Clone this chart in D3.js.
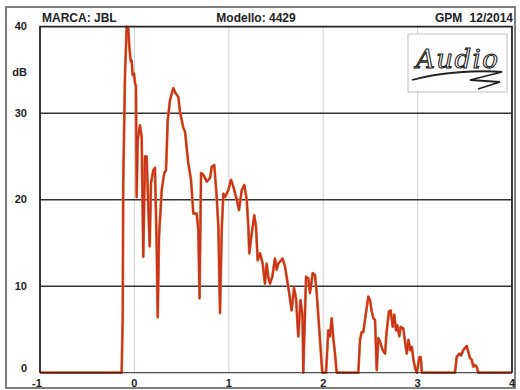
<!DOCTYPE html>
<html>
<head>
<meta charset="utf-8">
<script src="https://cdn.jsdelivr.net/npm/d3@7"></script>
<style>
  body { margin: 0; background: #fff; }
  svg { display: block; font-family: "Liberation Sans", Arial, sans-serif; }
</style>
</head>
<body>
<script>
// frequency-ish axis (-1 .. 4) and level in dB
const xVals = [-1, -0.135, -0.124, -0.118, -0.10, -0.082, -0.065, -0.054, -0.039, -0.029, -0.018, -0.004, 0.006, 0.017,
  0.024, 0.035, 0.059, 0.077, 0.094, 0.112, 0.130, 0.147, 0.162, 0.176, 0.200, 0.218, 0.236, 0.247, 0.261, 0.289,
  0.317, 0.335, 0.353, 0.377, 0.412, 0.437, 0.465, 0.483, 0.518, 0.536, 0.571, 0.600, 0.624, 0.660, 0.677, 0.690,
  0.706, 0.730, 0.766, 0.801, 0.819, 0.846, 0.861, 0.872, 0.889, 0.907, 0.925, 0.942, 0.960, 0.995, 1.023, 1.048,
  1.084, 1.108, 1.137, 1.164, 1.190, 1.207, 1.217, 1.243, 1.270, 1.288, 1.306, 1.331, 1.359, 1.383, 1.401, 1.418,
  1.436, 1.461, 1.489, 1.507, 1.524, 1.569, 1.595, 1.630, 1.666, 1.691, 1.712, 1.736, 1.760, 1.781, 1.789, 1.818,
  1.842, 1.860, 1.889, 1.913, 1.931, 1.950, 1.971, 1.990, 2.030, 2.043, 2.054, 2.072, 2.090, 2.107, 2.125, 2.143,
  2.372, 2.390, 2.408, 2.425, 2.453, 2.478, 2.496, 2.514, 2.531, 2.549, 2.567, 2.584, 2.602, 2.630, 2.655, 2.673,
  2.697, 2.715, 2.736, 2.753, 2.771, 2.785, 2.806, 2.821, 2.849, 2.867, 2.885, 2.903, 2.921, 2.939, 2.956, 2.974,
  2.992, 3.019, 3.034, 3.045, 3.396, 3.414, 3.439, 3.460, 3.484, 3.520, 3.537, 3.555, 3.573, 3.590, 3.608, 3.626,
  3.643, 4];
const dbVals = [0, 0, 6.1, 21.9, 34.2, 40.0, 39.8, 37.7, 36.0, 36.1, 34.4, 34.6, 33.5, 33.1,
  20.3, 26.9, 28.6, 27.3, 13.4, 25.0, 25.0, 19.2, 14.6, 21.9, 23.4, 23.7, 14.6, 6.4, 15.7, 21.1,
  23.1, 23.4, 29.2, 31.5, 32.9, 32.3, 31.9, 30.2, 28.3, 27.9, 24.2, 22.3, 18.4, 18.4, 16.5, 8.6,
  23.1, 22.9, 22.1, 22.5, 23.8, 24.0, 21.9, 20.3, 16.9, 6.9, 16.5, 20.7, 20.3, 21.1, 22.3, 21.5,
  20.0, 18.8, 21.1, 21.7, 20.0, 16.9, 13.8, 16.1, 18.2, 16.9, 13.0, 13.8, 12.6, 10.3, 12.6, 11.1,
  10.3, 11.1, 13.2, 11.9, 12.6, 13.2, 12.3, 9.9, 7.2, 9.8, 8.6, 4.2, 8.4, 6.5, 0, 11.1,
  10.9, 9.2, 11.5, 11.3, 9.2, 6.3, 3.0, 0, 0, 2.6, 4.9, 4.2, 6.3, 4.0, 2.2, 0,
  0, 3.8, 4.7, 4.7, 6.9, 8.8, 8.4, 7.1, 6.3, 6.1, 0.3, 4.0, 3.6, 2.6, 2.2, 4.9,
  7.1, 7.2, 5.3, 6.7, 4.9, 5.5, 4.2, 5.3, 5.1, 3.6, 2.2, 3.8, 2.6, 3.0, 1.5, 0.5,
  0, 1.8, 1.8, 0, 0, 1.8, 2.2, 2.0, 2.6, 3.1, 2.4, 1.7, 1.5, 0.7, 0.9, 0.7,
  0, 0];

const xTicks = [-1, 0, 1, 2, 3, 4];
const xGrid = [0, 1, 2, 3];
const yTicks = [0, 10, 20, 30, 40];
const yGrid = [10, 20, 30];

const brand = "MARCA: JBL";
const model = "Modello: 4429";
const lab = "GPM";
const date = "12/2014";

const W = 520, H = 390;
const plot = { left: 40, right: 512, top: 26.7, bottom: 372.7 };

const svg = d3.select("body").
append("svg").
attr("width", W).
attr("height", H);

// outer frame of the sheet
svg.append("rect").
attr("x", 6).
attr("y", 7).
attr("width", 509).
attr("height", 381).
attr("fill", "#fff").
attr("stroke", "#555").
attr("stroke-width", 1.5);

const x = d3.scaleLinear().
domain([-1, 4]).
range([plot.left, plot.right]);

const y = d3.scaleLinear().
domain([0, 40]).
range([plot.bottom, plot.top]);

// header texts
const header = [[brand, 42, "start"], [model, 256, "middle"], [lab, 435, "start"], [date, 513, "end"]];
svg.append("g").
selectAll("text").
data(header).
enter().
append("text").
attr("x", d => d[1]).
attr("y", 22).
attr("text-anchor", d => d[2]).
attr("font-size", 12).
attr("font-weight", "bold").
attr("fill", "#222").
text(d => d[0]);

// vertical grid, thin and light
svg.append("g").
selectAll("line").
data(xGrid).
enter().
append("line").
attr("x1", d => x(d)).
attr("x2", d => x(d)).
attr("y1", plot.top).
attr("y2", plot.bottom).
attr("stroke", "#c4c4c4").
attr("stroke-width", 0.8);

// horizontal grid, dark
svg.append("g").
selectAll("line").
data(yGrid).
enter().
append("line").
attr("x1", plot.left).
attr("x2", plot.right).
attr("y1", d => y(d)).
attr("y2", d => y(d)).
attr("stroke", "#333").
attr("stroke-width", 1.4);

// logo box
const logo = svg.append("g");
logo.append("rect").
attr("x", 408).
attr("y", 34).
attr("width", 99).
attr("height", 58).
attr("fill", "#fff").
attr("stroke", "#b0b0b0").
attr("stroke-width", 0.8);
logo.append("text").
attr("x", 416).
attr("y", 68).
attr("font-family", "DejaVu Serif").
attr("font-style", "italic").
attr("font-size", 26).
attr("textLength", 82).
attr("fill", "#fff").
attr("stroke", "#222").
attr("stroke-width", 1.1).
text("Audio");
logo.append("path").
attr("d", "M412,80 C440,72 480,70 502,72 L470,80 L500,82 L478,89").
attr("fill", "none").
attr("stroke", "#222").
attr("stroke-width", 1.8);

// the response curve
const line = d3.line().
x((d, i) => x(xVals[i])).
y(d => y(d)).
curve(d3.curveLinear);

svg.append("path").
datum(dbVals).
attr("d", line).
attr("fill", "none").
attr("stroke", "#e8823a").
attr("stroke-width", 2.8).
attr("stroke-linejoin", "round");

svg.append("path").
datum(dbVals).
attr("d", line).
attr("fill", "none").
attr("stroke", "#c83220").
attr("stroke-width", 1.9).
attr("stroke-linejoin", "round");

// plot border
svg.append("path").
attr("d", `M${plot.left},${plot.bottom}V${plot.top}H${plot.right}V${plot.bottom}`).
attr("fill", "none").
attr("stroke", "#222").
attr("stroke-width", 1.8);

svg.append("line").
attr("x1", plot.left).
attr("x2", plot.right).
attr("y1", plot.bottom).
attr("y2", plot.bottom).
attr("stroke", "#222").
attr("stroke-width", 1.2).
attr("opacity", 0.8);

// axis labels
svg.append("g").
selectAll("text").
data(yTicks).
enter().
append("text").
attr("x", 27).
attr("y", d => Math.min(Math.max(y(d) + 3.5, 28.5), 371.5)).
attr("text-anchor", "end").
attr("font-size", 11).
attr("font-weight", "bold").
attr("fill", "#222").
text(d => d);

svg.append("text").
attr("x", 27).
attr("y", 76).
attr("text-anchor", "end").
attr("font-size", 11).
attr("font-weight", "bold").
attr("fill", "#222").
text("dB");

svg.append("g").
selectAll("text").
data(xTicks).
enter().
append("text").
attr("x", d => x(d) - (d < 0 ? 3 : 0)).
attr("y", 387).
attr("text-anchor", "middle").
attr("font-size", 11).
attr("font-weight", "bold").
attr("fill", "#222").
text(d => d);
</script>
</body>
</html>
